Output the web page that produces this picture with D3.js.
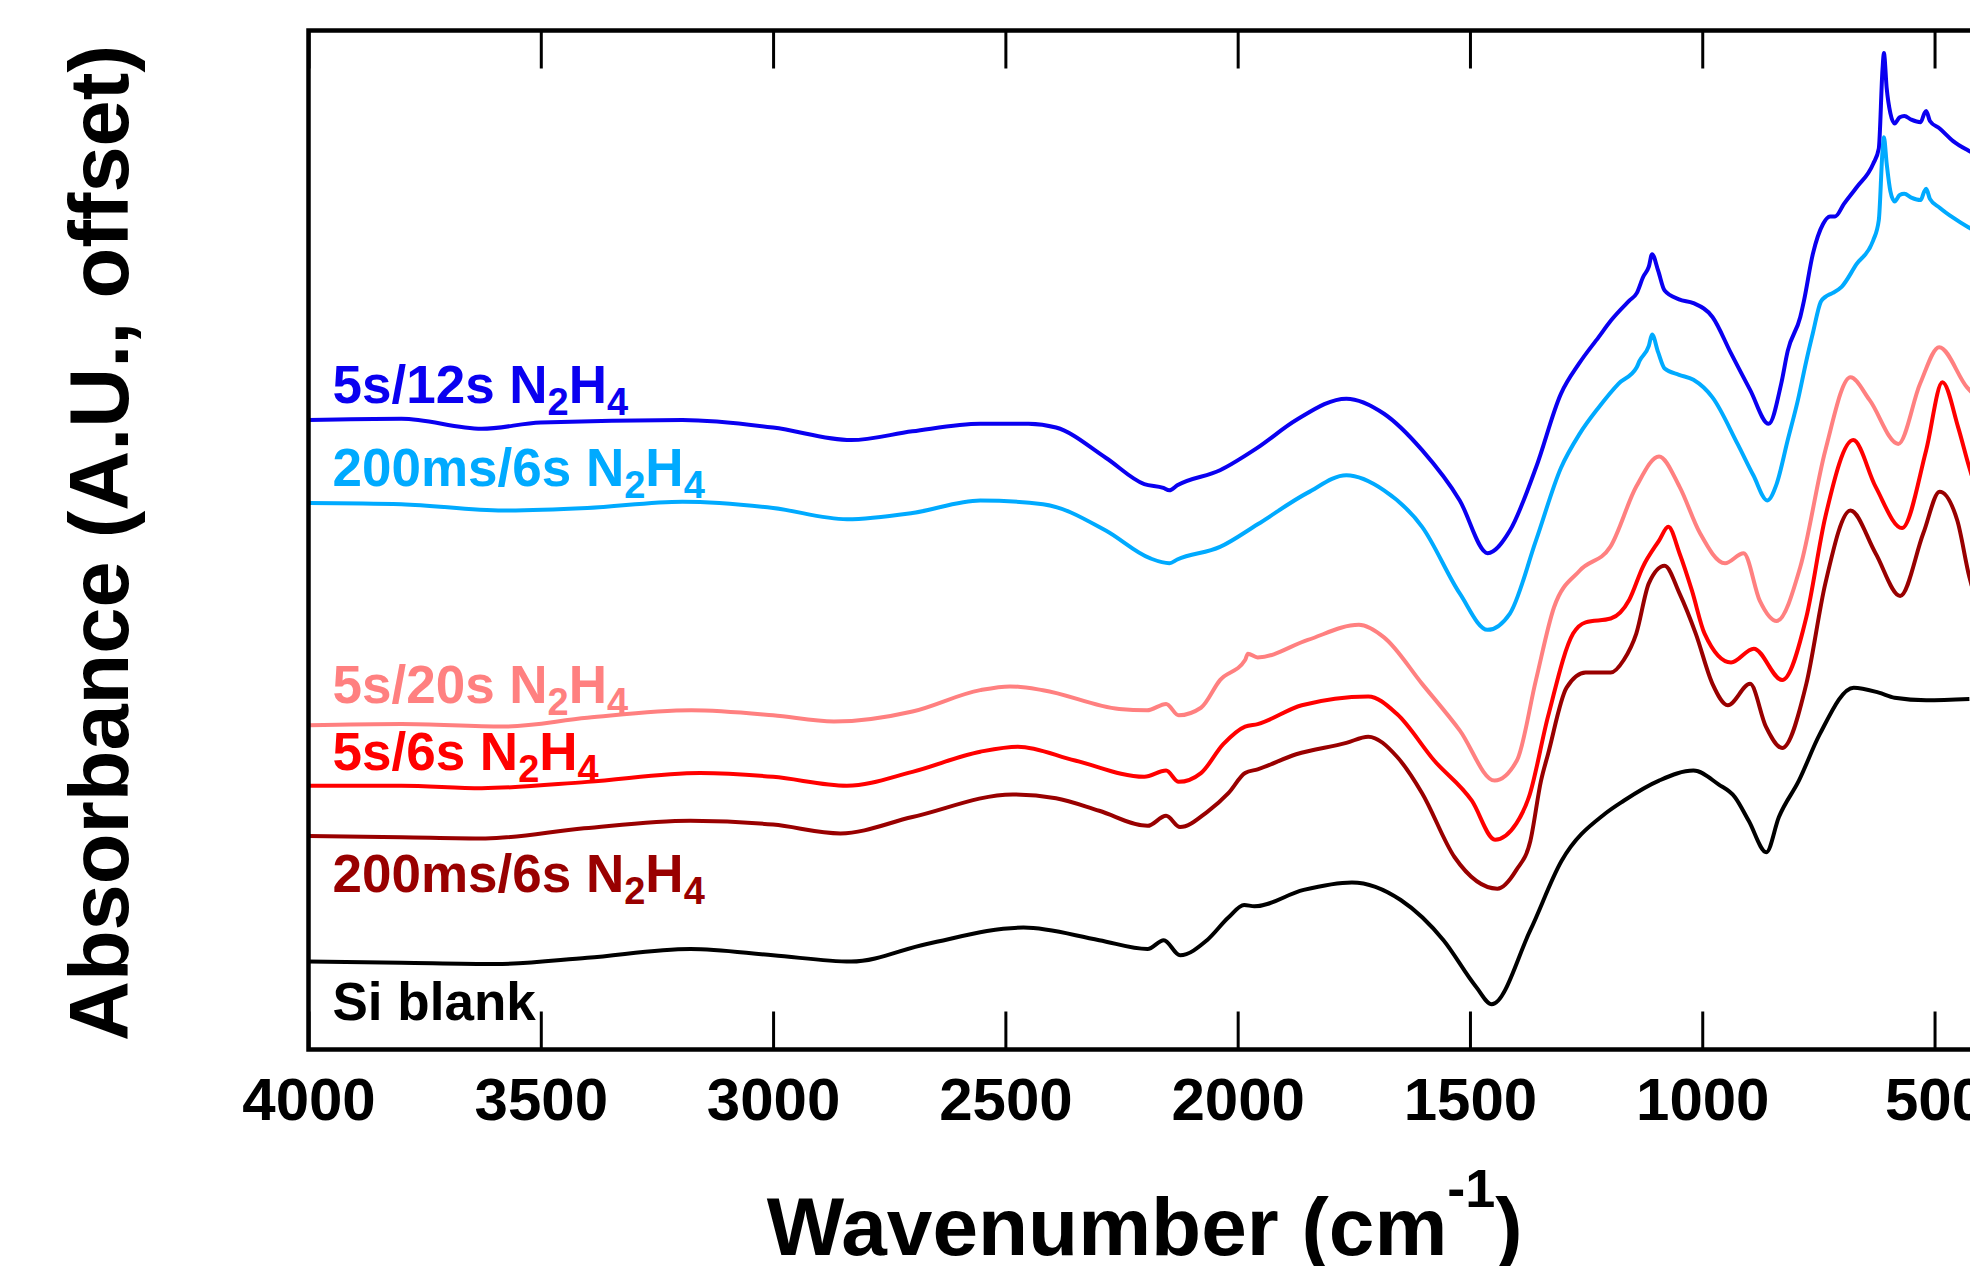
<!DOCTYPE html>
<html>
<head>
<meta charset="utf-8">
<script src="https://cdn.jsdelivr.net/npm/d3@7"></script>
<style>
  html, body { margin: 0; padding: 0; background: #fff; overflow: hidden; }
  text { font-family: "Liberation Sans", Arial, sans-serif; font-weight: bold; }
</style>
</head>
<body>
<div id="chart"></div>
<script>
// [wavenumber (cm-1), absorbance (A.U., offset)]
const run5s12s = [
  [4000, 5.01], [3800, 5.02], [3627, 4.94], [3500, 4.99], [3195, 5.01], [3000, 4.95],
  [2832, 4.85], [2700, 4.92], [2554, 4.98], [2450, 4.98], [2391, 4.95], [2284, 4.71],
  [2201, 4.50], [2160, 4.47], [2147, 4.45], [2130, 4.49], [2038, 4.61], [1957, 4.79],
  [1874, 5.01], [1766, 5.18], [1685, 5.06], [1603, 4.77], [1522, 4.37], [1462, 3.95],
  [1414, 4.13], [1358, 4.63], [1304, 5.22], [1265, 5.46], [1223, 5.67], [1197, 5.80],
  [1157, 5.96], [1141, 6.02], [1127, 6.15], [1115, 6.23], [1108, 6.33], [1095, 6.20],
  [1081, 6.04], [1050, 5.97], [1019, 5.94], [978, 5.83], [938, 5.54], [897, 5.25],
  [857, 4.98], [830, 5.30], [816, 5.56], [789, 5.83], [781, 5.96], [762, 6.33],
  [740, 6.57], [725, 6.63], [714, 6.63], [695, 6.73], [668, 6.86], [632, 7.05],
  [620, 7.17], [612, 7.80], [609, 7.93], [603, 7.65], [595, 7.45], [586, 7.37],
  [575, 7.42], [565, 7.43], [550, 7.40], [530, 7.38], [522, 7.45], [518, 7.47],
  [510, 7.39], [489, 7.33], [460, 7.23], [430, 7.16], [420, 7.14]
]

const run200ms6sA = [
  [4000, 4.35], [3800, 4.34], [3581, 4.29], [3400, 4.31], [3195, 4.36], [3000, 4.31],
  [2841, 4.22], [2700, 4.27], [2554, 4.37], [2419, 4.34], [2284, 4.13], [2189, 3.91],
  [2147, 3.87], [2130, 3.90], [2038, 4.00], [1957, 4.18], [1850, 4.43], [1766, 4.57],
  [1685, 4.45], [1603, 4.16], [1522, 3.63], [1462, 3.34], [1414, 3.47], [1358, 4.05],
  [1304, 4.63], [1264, 4.90], [1223, 5.11], [1180, 5.30], [1141, 5.43], [1135, 5.48],
  [1115, 5.60], [1108, 5.69], [1095, 5.55], [1081, 5.42], [1050, 5.37], [1019, 5.33],
  [978, 5.19], [924, 4.82], [890, 4.57], [860, 4.37], [840, 4.50], [816, 4.85],
  [794, 5.17], [776, 5.48], [762, 5.70], [745, 5.95], [735, 5.99], [720, 6.02],
  [700, 6.07], [668, 6.25], [632, 6.44], [620, 6.60], [612, 7.15], [609, 7.26],
  [603, 7.05], [595, 6.83], [586, 6.75], [575, 6.80], [565, 6.81], [550, 6.78],
  [530, 6.76], [522, 6.83], [518, 6.85], [510, 6.77], [489, 6.70], [460, 6.62],
  [430, 6.55], [420, 6.53]
]

const run5s20s = [
  [4000, 2.58], [3800, 2.59], [3581, 2.57], [3400, 2.64], [3176, 2.70], [3000, 2.66],
  [2869, 2.61], [2700, 2.69], [2554, 2.86], [2490, 2.89], [2419, 2.86], [2255, 2.71],
  [2195, 2.70], [2154, 2.75], [2127, 2.66], [2079, 2.72], [2038, 2.94], [1984, 3.10],
  [1978, 3.15], [1957, 3.12], [1849, 3.26], [1739, 3.38], [1685, 3.28], [1603, 2.91],
  [1522, 2.54], [1447, 2.14], [1399, 2.30], [1358, 2.94], [1319, 3.52], [1264, 3.81],
  [1198, 4.00], [1142, 4.48], [1093, 4.72], [1049, 4.48], [1005, 4.11], [951, 3.87],
  [911, 3.95], [876, 3.57], [840, 3.41], [789, 3.84], [735, 4.77], [681, 5.35],
  [640, 5.17], [578, 4.82], [531, 5.30], [490, 5.59], [430, 5.27], [420, 5.23]
]

const run5s6s = [
  [4000, 2.10], [3800, 2.10], [3627, 2.08], [3400, 2.13], [3157, 2.20], [3000, 2.17],
  [2841, 2.10], [2700, 2.21], [2554, 2.37], [2473, 2.41], [2350, 2.30], [2201, 2.17],
  [2154, 2.22], [2127, 2.13], [2079, 2.20], [2031, 2.43], [1984, 2.57], [1957, 2.59],
  [1862, 2.74], [1719, 2.81], [1657, 2.67], [1577, 2.30], [1496, 1.98], [1446, 1.67],
  [1400, 1.80], [1373, 2.01], [1332, 2.65], [1278, 3.31], [1251, 3.40], [1197, 3.43],
  [1157, 3.58], [1128, 3.84], [1093, 4.05], [1073, 4.16], [1049, 3.95], [1022, 3.65],
  [995, 3.31], [938, 3.08], [889, 3.19], [828, 2.94], [776, 3.44], [735, 4.24],
  [675, 4.85], [627, 4.48], [570, 4.15], [518, 4.77], [483, 5.31], [449, 4.95],
  [425, 4.63], [420, 4.57]
]

const run200ms6sB = [
  [4000, 1.70], [3800, 1.69], [3619, 1.68], [3407, 1.76], [3178, 1.82], [3000, 1.79],
  [2855, 1.72], [2700, 1.85], [2484, 2.03], [2391, 2.00], [2298, 1.90], [2194, 1.78],
  [2154, 1.86], [2124, 1.77], [2066, 1.89], [2020, 2.04], [1984, 2.20], [1957, 2.23],
  [1874, 2.35], [1766, 2.44], [1719, 2.49], [1657, 2.33], [1603, 2.04], [1533, 1.53],
  [1441, 1.28], [1400, 1.43], [1370, 1.66], [1347, 2.14], [1332, 2.35], [1292, 2.88],
  [1251, 3.00], [1197, 3.00], [1169, 3.10], [1142, 3.31], [1115, 3.71], [1081, 3.85],
  [1049, 3.63], [1014, 3.31], [978, 2.91], [945, 2.74], [897, 2.91], [863, 2.57],
  [828, 2.40], [776, 2.91], [735, 3.71], [681, 4.29], [627, 3.95], [574, 3.61],
  [524, 4.11], [489, 4.44], [451, 4.21], [425, 3.76], [420, 3.69]
]

const siBlank = [
  [4000, 0.70], [3800, 0.69], [3597, 0.68], [3400, 0.73], [3178, 0.80], [3000, 0.75],
  [2832, 0.70], [2669, 0.84], [2461, 0.97], [2298, 0.87], [2194, 0.80], [2159, 0.87],
  [2124, 0.75], [2066, 0.87], [2020, 1.05], [1986, 1.15], [1964, 1.14], [1858, 1.27],
  [1754, 1.33], [1649, 1.19], [1557, 0.87], [1487, 0.50], [1453, 0.36], [1370, 0.95],
  [1303, 1.50], [1208, 1.88], [1169, 1.98], [1093, 2.14], [1019, 2.22], [965, 2.11],
  [930, 2.01], [900, 1.82], [862, 1.57], [835, 1.85], [792, 2.14], [747, 2.51],
  [674, 2.88], [620, 2.84], [586, 2.80], [518, 2.78], [425, 2.79]
]

const seriesData = [run5s12s, run200ms6sA, run5s20s, run5s6s, run200ms6sB, siBlank]
const seriesTimes = ["5s/12s", "200ms/6s", "5s/20s", "5s/6s", "200ms/6s", "Si blank"]
const seriesHasN2H4 = [true, true, true, true, true, false]
const seriesColors = ["#0a00f0", "#00aaff", "#ff8080", "#ff0000", "#990000", "#000000"]

const xTicks = [4000, 3500, 3000, 2500, 2000, 1500, 1000, 500]
const xDomain = [4000, 400]
const yDomain = [0, 8.11]

function drawSpectra() {

  // 1. Access data
  const xAccessor = d => d[0]
  const yAccessor = d => d[1]

  // 2. Create chart dimensions
  let dimensions = {
    width: 1970,
    height: 1266,
    margin: {
      top: 30.5,
      right: -11,
      bottom: 216.5,
      left: 308.5,
    },
  }
  dimensions.boundedWidth = dimensions.width
    - dimensions.margin.left
    - dimensions.margin.right
  dimensions.boundedHeight = dimensions.height
    - dimensions.margin.top
    - dimensions.margin.bottom

  // 3. Draw canvas
  const wrapper = d3.select("#chart")
    .append("svg")
      .attr("width", dimensions.width)
      .attr("height", dimensions.height)

  const bounds = wrapper.append("g")
      .attr("transform", `translate(${dimensions.margin.left}, ${dimensions.margin.top})`)

  bounds.append("defs").append("clipPath")
      .attr("id", "bounds-clip-path")
    .append("rect")
      .attr("width", dimensions.boundedWidth)
      .attr("height", dimensions.boundedHeight)

  const clip = bounds.append("g")
      .attr("clip-path", "url(#bounds-clip-path)")

  // 4. Create scales
  const xScale = d3.scaleLinear()
    .domain(xDomain)
    .range([0, dimensions.boundedWidth])

  const yScale = d3.scaleLinear()
    .domain(yDomain)
    .range([dimensions.boundedHeight, 0])

  // 5. Draw data
  const lineGenerator = d3.line()
    .x(d => xScale(xAccessor(d)))
    .y(d => yScale(yAccessor(d)))
    .curve(d3.curveMonotoneX)

  clip.selectAll(".spectrum")
    .data(seriesData)
    .join("path")
      .attr("class", "spectrum")
      .attr("d", d => lineGenerator(d))
      .attr("fill", "none")
      .attr("stroke", (d, i) => seriesColors[i])
      .attr("stroke-width", 4)
      .attr("stroke-linejoin", "round")

  // labels sit just above (or below) the start of each trace
  const labelOffsets = [-17, -17, -22, -16, 56, 58]
  const labels = bounds.selectAll(".series-label")
    .data(seriesData)
    .join("text")
      .attr("class", "series-label")
      .attr("x", 24)
      .attr("y", (d, i) => yScale(yAccessor(d[0])) + labelOffsets[i])
      .attr("fill", (d, i) => seriesColors[i])
      .style("font-size", "53px")

  labels.each(function(d, i) {
    const label = d3.select(this)
    if (!seriesHasN2H4[i]) {
      label.text(seriesTimes[i])
      return
    }
    label.append("tspan").text(`${seriesTimes[i]} N`)
    label.append("tspan").attr("dy", 12).style("font-size", "38px").text("2")
    label.append("tspan").attr("dy", -12).text("H")
    label.append("tspan").attr("dy", 12).style("font-size", "38px").text("4")
  })

  // 6. Draw peripherals
  const xAxisGenerator = d3.axisBottom()
    .scale(xScale)
    .tickValues(xTicks)
    .tickFormat(d3.format("d"))
    .tickSize(-38)
    .tickSizeOuter(0)
    .tickPadding(28)

  const xAxis = bounds.append("g")
      .attr("class", "x-axis")
      .attr("transform", `translate(0, ${dimensions.boundedHeight})`)
    .call(xAxisGenerator)

  xAxis.select(".domain").remove()
  xAxis.selectAll(".tick line")
      .attr("stroke", "#000")
      .attr("stroke-width", 3)
  xAxis.selectAll(".tick text")
      .attr("fill", "#000")
      .style("font-size", "60px")
      .style("font-family", "'Liberation Sans', Arial, sans-serif")
      .style("font-weight", "bold")

  const topAxisGenerator = d3.axisTop()
    .scale(xScale)
    .tickValues(xTicks)
    .tickSize(-38)
    .tickSizeOuter(0)
    .tickFormat("")

  const topAxis = bounds.append("g")
      .attr("class", "top-axis")
    .call(topAxisGenerator)

  topAxis.select(".domain").remove()
  topAxis.selectAll(".tick line")
      .attr("stroke", "#000")
      .attr("stroke-width", 3)

  bounds.append("rect")
      .attr("class", "frame")
      .attr("width", dimensions.boundedWidth)
      .attr("height", dimensions.boundedHeight)
      .attr("fill", "none")
      .attr("stroke", "#000")
      .attr("stroke-width", 4.5)

  const xAxisLabel = bounds.append("text")
      .attr("class", "x-axis-label")
      .attr("x", dimensions.boundedWidth / 2)
      .attr("y", dimensions.boundedHeight + 205)
      .attr("text-anchor", "middle")
      .attr("fill", "#000")
      .style("font-size", "82px")

  xAxisLabel.append("tspan").text("Wavenumber (cm")
  xAxisLabel.append("tspan").attr("dy", -48).style("font-size", "54px").text("-1")
  xAxisLabel.append("tspan").attr("dy", 48).text(")")

  wrapper.append("text")
      .attr("class", "y-axis-label")
      .attr("transform", "translate(128, 543) rotate(-90)")
      .attr("text-anchor", "middle")
      .attr("fill", "#000")
      .style("font-size", "83px")
      .text("Absorbance (A.U., offset)")
}

drawSpectra()
</script>
</body>
</html>
